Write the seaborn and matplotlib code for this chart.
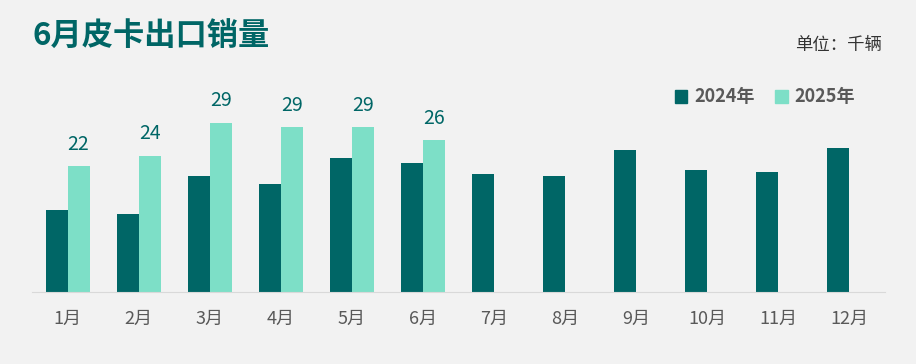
import numpy as np
import pandas as pd
import matplotlib
matplotlib.use("Agg")
import matplotlib.pyplot as plt
import seaborn as sns
from matplotlib.patches import Patch

# ===== datos =====
MONTHS = ["1月", "2月", "3月", "4月", "5月", "6月", "7月", "8月", "9月", "10月", "11月", "12月"]
SALES_2024 = [14.3, 13.6, 20.2, 18.8, 23.3, 22.4, 20.5, 20.2, 24.7, 21.2, 20.9, 25.0]
SALES_2025 = [21.9, 23.7, 29.4, 28.7, 28.7, 26.4]
YEARS = ["2024年", "2025年"]
TITLE = "6月皮卡出口销量"
UNIT = "单位：千辆"

DARK = "#006666"
LIGHT = "#7DDFC7"
BG = "#F2F2F2"
GREY = "#595959"

sns.set_style("white")
plt.rcParams["font.family"] = ["Noto Sans CJK SC", "DejaVu Sans"]

s25 = SALES_2025 + [np.nan] * (len(MONTHS) - len(SALES_2025))
df = pd.DataFrame({
    "month": MONTHS * 2,
    "year": [YEARS[0]] * len(MONTHS) + [YEARS[1]] * len(MONTHS),
    "value": SALES_2024 + s25,
})

fig = plt.figure(figsize=(9.16, 3.64), dpi=100, facecolor=BG)
ax = fig.add_axes([32 / 916, 72 / 364, 853 / 916, 192 / 364])
ax.set_facecolor(BG)

sns.barplot(data=df, x="month", y="value", hue="year", order=MONTHS,
            hue_order=YEARS, palette=[DARK, LIGHT], width=0.62,
            saturation=1, linewidth=0, ax=ax, legend=False)

# etiquetas solo para 2025
bars25 = ax.containers[1]
for rect, v in zip(bars25, s25):
    if np.isnan(v):
        continue
    ax.text(rect.get_x() + rect.get_width() / 2, v + 2.0, f"{v:.0f}",
            ha="center", va="bottom", color=DARK, fontsize=14)

ax.set_xlim(-0.5, len(MONTHS) - 0.5)
ax.set_ylim(0, 33.4)
ax.set_yticks([])
ax.set_xlabel(""); ax.set_ylabel("")
for side in ["top", "right", "left"]:
    ax.spines[side].set_visible(False)
ax.spines["bottom"].set_color("#D9D9D9")
ax.tick_params(axis="x", length=0, pad=13, labelsize=13, labelcolor=GREY)

# leyenda manual
handles = [Patch(color=DARK, label=YEARS[0]), Patch(color=LIGHT, label=YEARS[1])]
leg = fig.legend(handles=handles, loc="center", bbox_to_anchor=(765 / 916, 1 - 97 / 364),
                 ncol=2, frameon=False, handlelength=0.7, handleheight=0.7,
                 handletextpad=0.4, columnspacing=1.1,
                 prop={"size": 13, "weight": "bold"})
for t in leg.get_texts():
    t.set_color(GREY)

fig.text(32 / 916, 1 - 37 / 364, TITLE, ha="left", va="center",
         fontsize=22.5, fontweight="bold", color=DARK)
fig.text(882 / 916, 1 - 45 / 364, UNIT, ha="right", va="center",
         fontsize=12.5, color="#333333")

fig.savefig("out.png", dpi=100, facecolor=BG)
plt.close(fig)
